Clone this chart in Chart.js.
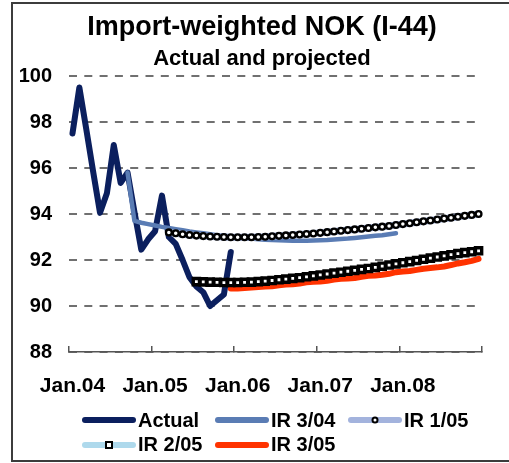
<!DOCTYPE html>
<html>
<head>
<meta charset="utf-8">
<script src="https://cdn.jsdelivr.net/npm/chart.js"></script>
<style>
  html, body { margin: 0; padding: 0; background: #fff; overflow: hidden; }
  body { width: 509px; height: 463px; position: relative; font-family: "Liberation Sans", Arial, sans-serif; }
  #frame { position: absolute; left: 11px; top: 2px; width: 520px; height: 460px; border: 2px solid #3c3c3c; box-sizing: border-box; pointer-events: none; }
  #wrap { position: absolute; left: 12px; top: 3px; width: 500px; height: 458px; }
  #legend { position: absolute; left: 82px; top: 408px; width: 420px; display: flex; flex-wrap: wrap; }
  .item { width: 133px; height: 24.6px; display: flex; align-items: center; font-weight: bold; font-size: 20px; color: #000; white-space: nowrap; }
  .sw { position: relative; width: 54px; height: 6px; border-radius: 3px; margin-right: 2px; flex: none; }
  .mk { position: absolute; left: 50%; top: 50%; transform: translate(-50%, -50%); box-sizing: border-box; background: #fff; border: 2px solid #000; }
</style>
</head>
<body>
<div id="wrap"><canvas id="chart"></canvas></div>
<div id="legend"></div>
<div id="frame"></div>
<script>
// month categories Jan.04 .. Dec.08
const monthNames = ['Jan', 'Feb', 'Mar', 'Apr', 'May', 'Jun', 'Jul', 'Aug', 'Sep', 'Oct', 'Nov', 'Dec'];
const years = ['04', '05', '06', '07', '08'];
const months = [];
years.forEach(y => monthNames.forEach(m => months.push(m + '.' + y)));

// Actual, Jan.04 - Dec.05
const actual = [97.5, 99.5, 97.7, 95.85, 94.05, 94.9, 97.0, 95.35, 95.8, 94.1, 92.45, 92.9,
                93.25, 94.8, 93.0, 92.7, 92.0, 91.25, 90.85, 90.6, 90.0, 90.25, 90.5, 92.35];
// IR 3/04, Sep.04 - Dec.07
const ir304 = [95.8, 93.7, 93.62, 93.56, 93.5, 93.44, 93.39, 93.34, 93.29, 93.24,
               93.2, 93.16, 93.12, 93.08, 93.05, 93.02, 92.99, 92.96, 92.93, 92.9,
               92.88, 92.87, 92.86, 92.85, 92.84, 92.84, 92.84, 92.85, 92.86, 92.87,
               92.89, 92.91, 92.93, 92.96, 92.99, 93.02, 93.05, 93.08, 93.12, 93.16];
// IR 1/05, Mar.05 - Dec.08
const ir105 = [93.2, 93.16, 93.12, 93.09, 93.06, 93.04, 93.02, 93.01, 93.0, 92.99,
               92.99, 92.99, 92.99, 93.0, 93.01, 93.03, 93.05, 93.07, 93.09, 93.11,
               93.13, 93.15, 93.18, 93.21, 93.24, 93.27, 93.3, 93.33, 93.36, 93.39,
               93.42, 93.45, 93.48, 93.52, 93.56, 93.6, 93.64, 93.68, 93.72, 93.76,
               93.8, 93.84, 93.88, 93.92, 93.96, 94.0];
// IR 2/05, Jul.05 - Dec.08
const ir205 = [91.06, 91.05, 91.04, 91.03, 91.02, 91.02, 91.02, 91.03, 91.04, 91.06,
               91.08, 91.11, 91.14, 91.17, 91.2, 91.23, 91.27, 91.31, 91.35, 91.39,
               91.43, 91.47, 91.51, 91.55, 91.59, 91.63, 91.68, 91.73, 91.78, 91.83,
               91.88, 91.93, 91.98, 92.03, 92.08, 92.13, 92.18, 92.23, 92.28, 92.32,
               92.36, 92.4];
// IR 3/05, Dec.05 - Dec.08
const ir305 = [90.76, 90.76, 90.78, 90.8, 90.83, 90.85, 90.86, 90.9, 90.93, 90.95,
               90.98, 91.03, 91.05, 91.07, 91.1, 91.15, 91.18, 91.2, 91.22, 91.27,
               91.31, 91.33, 91.36, 91.4, 91.47, 91.5, 91.52, 91.57, 91.62, 91.65,
               91.68, 91.72, 91.78, 91.85, 91.9, 91.96, 92.05];

// put a series on the month axis starting at a given month
function place(start, vals) {
    const out = months.map(() => null);
    vals.forEach((v, i) => { out[start + i] = v; });
    return out;
}

Chart.defaults.font.family = '"Liberation Sans", Arial, sans-serif';

const chart = new Chart(document.getElementById('chart'), {
    type: 'line',
    data: {
        labels: months,
        datasets: [
            { label: 'Actual', data: place(0, actual), borderColor: '#0b1f5e', borderWidth: 6, pointRadius: 0, order: 5 },
            { label: 'IR 3/04', data: place(8, ir304), borderColor: '#5a7cb4', borderWidth: 4.5, pointRadius: 0, order: 4 },
            { label: 'IR 1/05', data: place(14, ir105), borderColor: '#a3b3dd', borderWidth: 7, pointStyle: 'circle',
              pointRadius: 2.9, pointBorderWidth: 2.3, pointBorderColor: '#000', pointBackgroundColor: '#fff', order: 3 },
            { label: 'IR 2/05', data: place(18, ir205), borderColor: '#aed9ec', borderWidth: 6, pointStyle: 'rect',
              pointRadius: 4.4, pointBorderWidth: 3.4, pointBorderColor: '#000', pointBackgroundColor: '#fff', order: 1 },
            { label: 'IR 3/05', data: place(23, ir305), borderColor: '#ff3300', borderWidth: 6, pointRadius: 0, order: 2 }
        ]
    },
    options: {
        responsive: true,
        maintainAspectRatio: false,
        animation: false,
        events: [],
        datasets: { line: { tension: 0, borderCapStyle: 'round', borderJoinStyle: 'round', fill: false } },
        layout: { padding: 0 },
        plugins: {
            legend: { display: false },
            tooltip: { enabled: false },
            title: {
                display: true,
                text: 'Import-weighted NOK (I-44)',
                color: '#000',
                font: { size: 27, weight: 'bold' },
                padding: { top: 8, bottom: 0 }
            },
            subtitle: {
                display: true,
                text: 'Actual and projected',
                color: '#000',
                font: { size: 22, weight: 'bold' },
                padding: { top: 2.4, bottom: 3.8 }
            }
        },
        scales: {
            x: {
                type: 'category',
                offset: true,
                grid: {
                    offset: true,
                    drawOnChartArea: false,
                    drawTicks: true,
                    tickLength: -6,
                    lineWidth: 1.5,
                    color: c => (c.index === undefined || c.index % 12 === 0) ? '#555' : 'rgba(0,0,0,0)'
                },
                border: { display: true, color: '#555', width: 1.5 },
                ticks: {
                    autoSkip: false,
                    maxRotation: 0,
                    minRotation: 0,
                    padding: 27.5,
                    color: '#000',
                    font: { size: 21, weight: 'bold' },
                    callback: (v, i) => i % 12 === 0 ? months[i] : ''
                },
                // room below for the legend, and a free strip right of the plot
                afterFit: s => { s.height = 109; s.paddingRight = 30; }
            },
            y: {
                min: 88,
                max: 100,
                ticks: { stepSize: 2, padding: 17, color: '#000', font: { size: 20, weight: 'bold' } },
                grid: { color: '#707070', lineWidth: 2, drawTicks: false },
                border: { display: false, dash: [8, 7.3] },
                afterFit: s => { s.width = 57; }
            }
        }
    }
});

// legend drawn as html, taken from the chart's datasets
const legend = document.getElementById('legend');
chart.data.datasets.forEach(ds => {
    const item = document.createElement('div');
    item.className = 'item';
    const sw = document.createElement('span');
    sw.className = 'sw';
    sw.style.background = ds.borderColor;
    if (ds.pointStyle) {
        const mk = document.createElement('span');
        mk.className = 'mk';
        if (ds.pointStyle === 'circle') {
            mk.style.width = '7px'; mk.style.height = '7px'; mk.style.borderRadius = '50%';
        } else {
            mk.style.width = '8px'; mk.style.height = '8px';
        }
        sw.appendChild(mk);
    }
    item.appendChild(sw);
    item.appendChild(document.createTextNode(ds.label));
    legend.appendChild(item);
});
</script>
</body>
</html>
